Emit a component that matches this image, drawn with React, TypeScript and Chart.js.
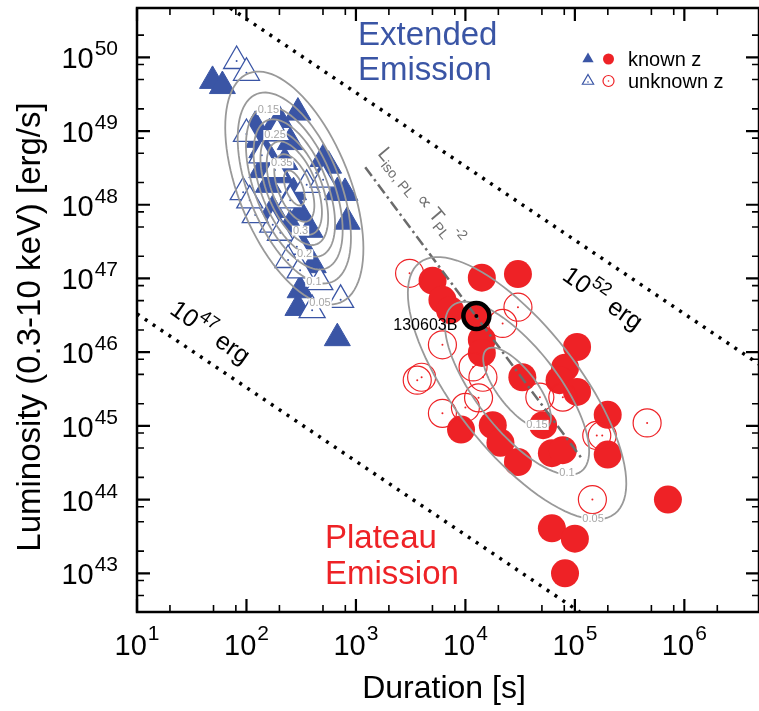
import React, { useEffect, useRef } from 'react';
import { Chart, registerables } from 'chart.js';

Chart.register(...registerables);

const FONT = '"Liberation Sans", Arial, Helvetica, sans-serif';
const BLUE = '#3a55a5';
const RED = '#ee2226';

// axis ranges (log10 units)
const xLogMin = 1;
const xLogMax = 6.682;
const yLogMin = 42.475;
const yLogMax = 50.669;
const xTickExps = [1, 2, 3, 4, 5, 6];
const yTickExps = [43, 44, 45, 46, 47, 48, 49, 50];
const minorMults = [2, 5, 8];

// Extended emission, known z (log10 duration [s], log10 luminosity [erg/s])
const eeKnownLogT = [1.69, 1.78, 2.47, 2.08, 2.21, 2.4, 2.7, 2.75, 2.9, 2.83, 2.43, 2.24, 2.49, 2.92, 2.49, 2.61, 2.49, 2.47, 2.83, 2.14, 2.22, 2.14, 2.31, 2.2, 2.35, 2.11, 2.3, 2.58, 2.4];
const eeKnownLogL = [49.68, 49.61, 49.25, 49.07, 48.97, 48.85, 48.62, 48.53, 48.16, 48.17, 48.17, 47.93, 47.89, 47.77, 47.49, 47.18, 46.84, 46.6, 46.19, 48.74, 48.61, 48.47, 48.4, 48.27, 48.58, 48.88, 49.15, 47.66, 47.73];
// Extended emission, unknown z
const eeUnknownLogT = [1.91, 2.0, 2.0, 2.28, 2.55, 1.97, 2.4, 2.7, 2.24, 2.31, 2.46, 2.67, 2.86, 2.6, 2.14, 2.08, 2.38, 2.26, 2.03, 2.49];
const eeUnknownLogL = [49.95, 49.79, 48.96, 48.97, 48.27, 48.17, 48.06, 48.34, 47.73, 47.62, 47.43, 46.95, 46.71, 46.57, 48.67, 47.86, 47.25, 48.47, 48.06, 47.11];
// Plateau emission, known z
const plKnownLogT = [3.7, 3.79, 3.86, 4.15, 4.48, 4.1, 4.15, 4.15, 5.02, 4.91, 4.52, 4.86, 5.02, 3.96, 4.25, 4.32, 4.48, 4.71, 4.79, 4.89, 5.3, 5.3, 5.85, 4.79, 5.0, 4.91];
const plKnownLogL = [46.97, 46.71, 46.57, 47.01, 47.06, 46.49, 46.17, 45.99, 46.07, 45.79, 45.66, 45.62, 45.46, 44.95, 45.01, 44.77, 44.51, 45.01, 44.63, 44.67, 45.15, 44.61, 44.0, 43.61, 43.47, 43.0];
// Plateau emission, unknown z
const plUnknownLogT = [3.49, 4.48, 4.34, 3.79, 3.6, 3.56, 4.07, 4.16, 3.79, 4.0, 4.12, 4.68, 4.89, 5.2, 5.25, 5.66, 5.16];
const plUnknownLogL = [47.07, 46.61, 46.39, 46.1, 45.66, 45.62, 45.8, 45.66, 45.17, 45.25, 45.38, 45.39, 45.39, 44.87, 44.87, 45.04, 44.0];

// highlighted burst
const highlightName = '130603B';
const highlightLogT = 4.1;
const highlightLogL = 46.49;

// constant-energy lines and L ∝ T^-2 line (endpoints, log10)
const e52LogT = [1.851, 6.682];
const e52LogL = [50.669, 45.838];
const e47LogT = [1.0, 5.045];
const e47LogL = [46.52, 42.475];
const plLawLogT = [3.085, 5.076];
const plLawLogL = [48.51, 44.53];

// density contours (log10 space): centre, major & minor half-axis vectors, level scales
const blueContourCenter = [2.437, 48.227];
const blueContourMajor = [0.419, -1.555];
const blueContourMinor = [0.472, 0.281];
const blueContourScales = [1, 0.82, 0.7, 0.59, 0.49, 0.4, 0.29, 0.15];
const redContourCenter = [4.472, 45.51];
const redContourMajor = [0.892, -1.703];
const redContourMinor = [0.447, 0.517];
const redContourScales = [1, 0.66, 0.31];

const contourLabelText = ['0.15', '0.25', '0.35', '0.3', '0.2', '0.1', '0.05', '0.15', '0.1', '0.05'];
const contourLabelLogT = [2.2, 2.261, 2.322, 2.494, 2.531, 2.616, 2.672, 4.654, 4.928, 5.166];
const contourLabelLogL = [49.285, 48.946, 48.562, 47.648, 47.327, 46.956, 46.663, 45.013, 44.362, 43.738];

const pts = (lt: number[], ll: number[]) => lt.map((t, i) => ({ x: Math.pow(10, t), y: Math.pow(10, ll[i]) }));

type Part = { t: string; fs: number; dy: number };

function drawParts(ctx: CanvasRenderingContext2D, x: number, y: number, deg: number, parts: Part[], color: string) {
  ctx.save();
  ctx.translate(x, y);
  ctx.rotate((deg * Math.PI) / 180);
  ctx.fillStyle = color;
  ctx.textAlign = 'left';
  ctx.textBaseline = 'alphabetic';
  let u = 0;
  for (const p of parts) {
    ctx.font = `${p.fs}px ${FONT}`;
    ctx.fillText(p.t, u, p.dy);
    u += ctx.measureText(p.t).width;
  }
  ctx.restore();
}

function drawPow(ctx: CanvasRenderingContext2D, base: string, exp: string, x: number, y: number, fs: number, sfs: number, raise: number, align: 'center' | 'right') {
  ctx.font = `${fs}px ${FONT}`;
  const wb = ctx.measureText(base).width;
  ctx.font = `${sfs}px ${FONT}`;
  const we = ctx.measureText(exp).width;
  const total = wb + we + 1;
  const x0 = align === 'center' ? x - total / 2 : x - total;
  ctx.textAlign = 'left';
  ctx.textBaseline = 'alphabetic';
  ctx.font = `${fs}px ${FONT}`;
  ctx.fillText(base, x0, y);
  ctx.font = `${sfs}px ${FONT}`;
  ctx.fillText(exp, x0 + wb + 1, y - raise);
}

const overlayPlugin = {
  id: 'overlay',
  beforeDraw(chart: any) {
    const ctx = chart.ctx;
    ctx.save();
    ctx.fillStyle = '#fff';
    ctx.fillRect(0, 0, chart.width, chart.height);
    ctx.restore();
  },
  afterDatasetsDraw(chart: any) {
    const ctx: CanvasRenderingContext2D = chart.ctx;
    const xs = chart.scales.x;
    const ys = chart.scales.y;
    const X = (lt: number) => xs.getPixelForValue(Math.pow(10, lt));
    const Y = (ll: number) => ys.getPixelForValue(Math.pow(10, ll));
    const { left, right, top, bottom } = chart.chartArea;
    ctx.save();
    ctx.beginPath();
    ctx.rect(left, top, right - left, bottom - top);
    ctx.clip();

    // contours
    const sets = [
      { c: blueContourCenter, u: blueContourMajor, v: blueContourMinor, s: blueContourScales },
      { c: redContourCenter, u: redContourMajor, v: redContourMinor, s: redContourScales },
    ];
    ctx.strokeStyle = '#999999';
    ctx.lineWidth = 1.8;
    for (const set of sets) {
      for (const sc of set.s) {
        ctx.beginPath();
        for (let k = 0; k <= 96; k++) {
          const a = (k / 96) * Math.PI * 2;
          const lt = set.c[0] + sc * (set.u[0] * Math.cos(a) + set.v[0] * Math.sin(a));
          const ll = set.c[1] + sc * (set.u[1] * Math.cos(a) + set.v[1] * Math.sin(a));
          const px = X(lt);
          const py = Y(ll);
          if (k === 0) ctx.moveTo(px, py);
          else ctx.lineTo(px, py);
        }
        ctx.closePath();
        ctx.stroke();
      }
    }
    // contour labels
    ctx.font = `11px ${FONT}`;
    ctx.textAlign = 'center';
    ctx.textBaseline = 'middle';
    contourLabelText.forEach((t, i) => {
      const px = X(contourLabelLogT[i]);
      const py = Y(contourLabelLogL[i]);
      const w = ctx.measureText(t).width;
      ctx.fillStyle = '#ffffff';
      ctx.fillRect(px - w / 2 - 1, py - 5, w + 2, 10);
      ctx.fillStyle = '#a6a6a6';
      ctx.fillText(t, px, py);
    });

    // highlighted burst
    const hx = X(highlightLogT);
    const hy = Y(highlightLogL);
    ctx.beginPath();
    ctx.arc(hx, hy, 13, 0, Math.PI * 2);
    ctx.strokeStyle = '#000';
    ctx.lineWidth = 4.5;
    ctx.stroke();
    ctx.beginPath();
    ctx.arc(hx, hy, 2, 0, Math.PI * 2);
    ctx.fillStyle = '#000';
    ctx.fill();
    ctx.font = `16px ${FONT}`;
    ctx.textAlign = 'right';
    ctx.textBaseline = 'alphabetic';
    ctx.fillText(highlightName, hx - 19, hy + 13.5);

    // energy labels
    drawParts(ctx, 561, 278.8, 35, [
      { t: '10', fs: 25, dy: 0 },
      { t: '52', fs: 18, dy: -12 },
      { t: ' erg', fs: 25, dy: 0 },
    ], '#000');
    drawParts(ctx, 168.5, 312.8, 35, [
      { t: '10', fs: 25, dy: 0 },
      { t: '47', fs: 18, dy: -12 },
      { t: ' erg', fs: 25, dy: 0 },
    ], '#000');
    // power-law label
    drawParts(ctx, 377, 154, 50, [
      { t: 'L', fs: 20, dy: 0 },
      { t: 'iso, PL', fs: 14, dy: 5 },
      { t: ' \u221D T', fs: 20, dy: 0 },
      { t: 'PL', fs: 14, dy: 5 },
      { t: '-2', fs: 14, dy: -9 },
    ], '#707070');
    ctx.restore();
  },
  afterDraw(chart: any) {
    const ctx: CanvasRenderingContext2D = chart.ctx;
    const xs = chart.scales.x;
    const ys = chart.scales.y;
    const X = (lt: number) => xs.getPixelForValue(Math.pow(10, lt));
    const Y = (ll: number) => ys.getPixelForValue(Math.pow(10, ll));
    const { left, right, top, bottom } = chart.chartArea;
    ctx.save();
    ctx.strokeStyle = '#000';
    ctx.fillStyle = '#000';
    // frame
    ctx.lineWidth = 2.5;
    ctx.strokeRect(left, top, right - left, bottom - top);
    // ticks
    const mults = [1, ...minorMults];
    for (let e = Math.floor(xLogMin); e <= Math.ceil(xLogMax); e++) {
      for (const m of mults) {
        const v = e + Math.log10(m);
        if (v < xLogMin - 1e-6 || v > xLogMax + 1e-6) continue;
        const px = X(v);
        const len = m === 1 ? 13 : 7;
        ctx.lineWidth = m === 1 ? 2.2 : 1.6;
        ctx.beginPath();
        ctx.moveTo(px, bottom);
        ctx.lineTo(px, bottom - len);
        ctx.moveTo(px, top);
        ctx.lineTo(px, top + len);
        ctx.stroke();
      }
    }
    for (let e = Math.floor(yLogMin); e <= Math.ceil(yLogMax); e++) {
      for (const m of mults) {
        const v = e + Math.log10(m);
        if (v < yLogMin - 1e-6 || v > yLogMax + 1e-6) continue;
        const py = Y(v);
        const len = m === 1 ? 13 : 7;
        ctx.lineWidth = m === 1 ? 2.2 : 1.6;
        ctx.beginPath();
        ctx.moveTo(left, py);
        ctx.lineTo(left + len, py);
        ctx.moveTo(right, py);
        ctx.lineTo(right - len, py);
        ctx.stroke();
      }
    }
    // tick labels
    xTickExps.forEach((e) => drawPow(ctx, '10', String(e), X(e), 655, 29, 21, 15, 'center'));
    yTickExps.forEach((e) => drawPow(ctx, '10', String(e), 118, Y(e) + 11, 29, 21, 13, 'right'));
    // axis titles
    ctx.font = `32px ${FONT}`;
    ctx.textAlign = 'center';
    ctx.textBaseline = 'alphabetic';
    ctx.fillText('Duration [s]', 444, 698);
    ctx.save();
    ctx.translate(40, 327);
    ctx.rotate(-Math.PI / 2);
    ctx.font = `33px ${FONT}`;
    ctx.fillText('Luminosity (0.3-10 keV) [erg/s]', 0, 0);
    ctx.restore();

    // group titles
    ctx.textAlign = 'left';
    ctx.font = `33px ${FONT}`;
    ctx.fillStyle = BLUE;
    ctx.fillText('Extended', 358, 45);
    ctx.fillText('Emission', 358, 80);
    ctx.fillStyle = RED;
    ctx.fillText('Plateau', 325, 548);
    ctx.fillText('Emission', 325, 584);

    // legend
    const tri = (cx: number, cy: number, r: number) => {
      ctx.beginPath();
      for (let k = 0; k < 3; k++) {
        const a = (k * 2 * Math.PI) / 3;
        const px = cx + Math.sin(a) * r;
        const py = cy - Math.cos(a) * r;
        if (k === 0) ctx.moveTo(px, py);
        else ctx.lineTo(px, py);
      }
      ctx.closePath();
    };
    ctx.fillStyle = BLUE;
    tri(588, 59, 6.5);
    ctx.fill();
    ctx.beginPath();
    ctx.arc(608.5, 59, 5.5, 0, Math.PI * 2);
    ctx.fillStyle = RED;
    ctx.fill();
    tri(588, 81, 6.5);
    ctx.strokeStyle = BLUE;
    ctx.lineWidth = 1.2;
    ctx.stroke();
    ctx.beginPath();
    ctx.arc(588, 82, 0.8, 0, Math.PI * 2);
    ctx.fillStyle = BLUE;
    ctx.fill();
    ctx.beginPath();
    ctx.arc(608.5, 81, 5.5, 0, Math.PI * 2);
    ctx.strokeStyle = RED;
    ctx.stroke();
    ctx.beginPath();
    ctx.arc(608.5, 81, 0.8, 0, Math.PI * 2);
    ctx.fillStyle = RED;
    ctx.fill();
    ctx.fillStyle = '#000';
    ctx.font = `20px ${FONT}`;
    ctx.fillText('known z', 628, 66);
    ctx.fillText('unknown z', 628, 88);
    ctx.restore();
  },
};

export default function App() {
  const ref = useRef<HTMLCanvasElement>(null);
  useEffect(() => {
    document.body.style.margin = '0';
    const canvas = ref.current;
    if (!canvas) return;
    const chart = new Chart(canvas, {
      type: 'scatter',
      data: {
        datasets: [
          { label: '10^52 erg', data: pts(e52LogT, e52LogL), showLine: true, borderColor: '#000', borderWidth: 3.5, borderDash: [3, 6.5], pointRadius: 0, order: 1 },
          { label: '10^47 erg', data: pts(e47LogT, e47LogL), showLine: true, borderColor: '#000', borderWidth: 3.5, borderDash: [3, 6.5], pointRadius: 0, order: 1 },
          { label: 'L_iso,PL ∝ T_PL^-2', data: pts(plLawLogT, plLawLogL), showLine: true, borderColor: '#6b6b6b', borderWidth: 2.5, borderDash: [11, 4, 2.5, 4], pointRadius: 0, order: 1 },
          { label: 'plateau unknown z centre', data: pts(plUnknownLogT, plUnknownLogL), pointRadius: 1, backgroundColor: RED, borderWidth: 0, order: 5 },
          { label: 'EE unknown z centre', data: pts(eeUnknownLogT, eeUnknownLogL), pointRadius: 1, backgroundColor: BLUE, borderWidth: 0, order: 5 },
          { label: 'EE unknown z', data: pts(eeUnknownLogT, eeUnknownLogL), pointStyle: 'triangle', pointRadius: 15, backgroundColor: '#fff', borderColor: BLUE, borderWidth: 1.3, order: 6 },
          { label: 'EE known z', data: pts(eeKnownLogT, eeKnownLogL), pointStyle: 'triangle', pointRadius: 15, backgroundColor: BLUE, borderColor: BLUE, borderWidth: 1, order: 7 },
          { label: 'plateau unknown z', data: pts(plUnknownLogT, plUnknownLogL), pointStyle: 'circle', pointRadius: 14, backgroundColor: 'rgba(255,255,255,0)', borderColor: RED, borderWidth: 1.2, order: 8 },
          { label: 'plateau known z', data: pts(plKnownLogT, plKnownLogL), pointStyle: 'circle', pointRadius: 14, backgroundColor: RED, borderColor: RED, borderWidth: 0, order: 9 },
        ],
      },
      options: {
        responsive: false,
        animation: false,
        devicePixelRatio: 1,
        events: [],
        layout: { autoPadding: false, padding: { left: 137, top: 8, right: 0, bottom: 99 } },
        plugins: { legend: { display: false }, tooltip: { enabled: false } },
        scales: {
          x: { type: 'logarithmic', min: Math.pow(10, xLogMin), max: Math.pow(10, xLogMax), display: false },
          y: { type: 'logarithmic', min: Math.pow(10, yLogMin), max: Math.pow(10, yLogMax), display: false },
        },
      },
      plugins: [overlayPlugin],
    } as any);
    return () => chart.destroy();
  }, []);
  return (
    <div style={{ width: 759, height: 711, background: '#fff' }}>
      <canvas ref={ref} width={759} height={711} style={{ display: 'block', width: 759, height: 711 }} />
    </div>
  );
}
